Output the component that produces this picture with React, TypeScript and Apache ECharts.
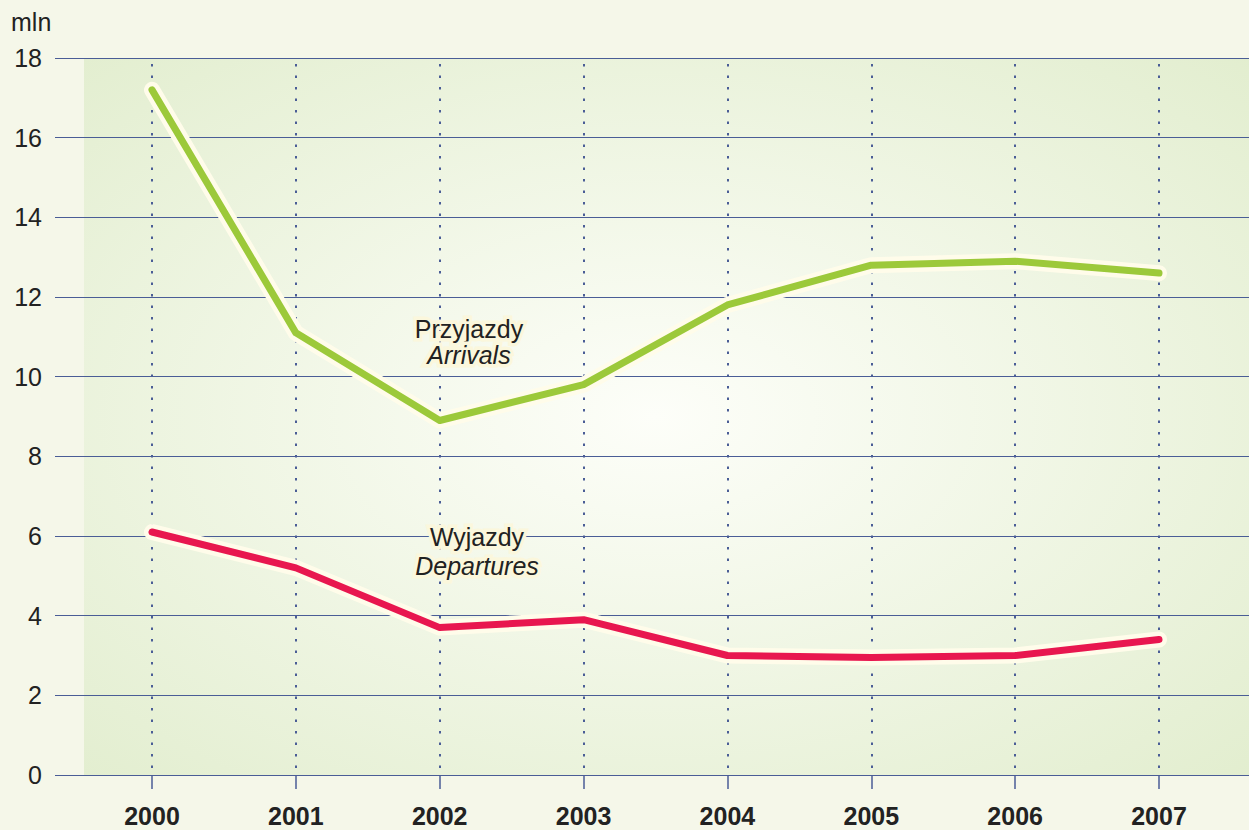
import React, { useEffect, useRef } from "react";
import * as echarts from "echarts";

const years = ["2000", "2001", "2002", "2003", "2004", "2005", "2006", "2007"];
const arrivals = [17.2, 11.1, 8.9, 9.8, 11.8, 12.8, 12.9, 12.6];
const departures = [6.1, 5.2, 3.7, 3.9, 3.0, 2.95, 3.0, 3.4];
const yTicks = { min: 0, max: 18, interval: 2 };

const FONT = "Liberation Sans";
const BLUE = "#4a5d96";
const HALO = "#fffcea";
const TEXT_HALO = "#fbf7dc";

export default function App() {
  const ref = useRef<HTMLDivElement>(null);
  useEffect(() => {
    if (!ref.current) return;
    const chart = echarts.init(ref.current, undefined, { renderer: "svg" });
    const halo = (name: string, data: number[]) => ({
      type: "line",
      name,
      xAxisIndex: 1,
      yAxisIndex: 1,
      data,
      symbol: "none",
      silent: true,
      lineStyle: { color: HALO, width: 16, cap: "round", join: "round" },
      z: 3,
    });
    const main = (name: string, data: number[], color: string) => ({
      type: "line",
      name,
      xAxisIndex: 1,
      yAxisIndex: 1,
      data,
      symbol: "none",
      lineStyle: { color, width: 7, cap: "round", join: "round" },
      z: 4,
    });
    const label = (text: string, x: number, y: number, italic: boolean) => ({
      type: "text",
      x,
      y,
      z: 10,
      style: {
        text,
        fontSize: 25,
        fontFamily: FONT,
        fontStyle: italic ? "italic" : "normal",
        fill: "#222",
        align: "center",
        verticalAlign: "middle",
        stroke: TEXT_HALO,
        lineWidth: 7,
      },
    });
    chart.setOption({
      animation: false,
      backgroundColor: "#f5f7e9",
      textStyle: { fontFamily: FONT },
      graphic: [
        {
          type: "rect",
          z: -100,
          silent: true,
          shape: { x: 84, y: 58, width: 1165, height: 717 },
          style: {
            fill: new echarts.graphic.RadialGradient(0.49, 0.5, 0.75, [
              { offset: 0, color: "#fdfef9" },
              { offset: 1, color: "#e1edcd" },
            ]),
          },
        },
        {
          type: "text",
          x: 11,
          y: 22,
          style: {
            text: "mln",
            fontSize: 25,
            fontFamily: FONT,
            fill: "#222",
            verticalAlign: "middle",
          },
        },
        label("Przyjazdy", 469, 329, false),
        label("Arrivals", 469, 355, true),
        label("Wyjazdy", 477, 537, false),
        label("Departures", 477, 566, true),
      ],
      grid: [
        { left: 55, right: 0, top: 58, bottom: 55 },
        { left: 152, right: 90, top: 58, bottom: 55 },
      ],
      xAxis: [
        { type: "value", gridIndex: 0, show: false, min: 0, max: 1 },
        {
          type: "category",
          gridIndex: 1,
          data: years,
          boundaryGap: false,
          axisLine: { show: false },
          axisTick: { show: true, length: 14, lineStyle: { color: BLUE, width: 1.5 } },
          axisLabel: {
            color: "#222",
            fontSize: 25,
            fontWeight: "bold",
            fontFamily: FONT,
            margin: 28,
          },
          splitLine: {
            show: true,
            lineStyle: { color: BLUE, width: 2, type: [2.5, 9], dashOffset: -6 },
          },
        },
      ],
      yAxis: [
        {
          type: "value",
          gridIndex: 0,
          ...yTicks,
          axisLine: { show: false },
          axisTick: { show: false },
          axisLabel: { color: "#222", fontSize: 25, fontFamily: FONT, margin: 13 },
          splitLine: { show: true, lineStyle: { color: BLUE, width: 1.2 } },
        },
        { type: "value", gridIndex: 1, ...yTicks, show: false },
      ],
      series: [
        halo("arrivals-halo", arrivals),
        halo("departures-halo", departures),
        main("Przyjazdy", arrivals, "#9cc93a"),
        main("Wyjazdy", departures, "#e8174f"),
      ],
    });
    return () => chart.dispose();
  }, []);
  return (
    <div
      ref={ref}
      style={{ position: "absolute", left: 0, top: 0, width: 1249, height: 830 }}
    />
  );
}
